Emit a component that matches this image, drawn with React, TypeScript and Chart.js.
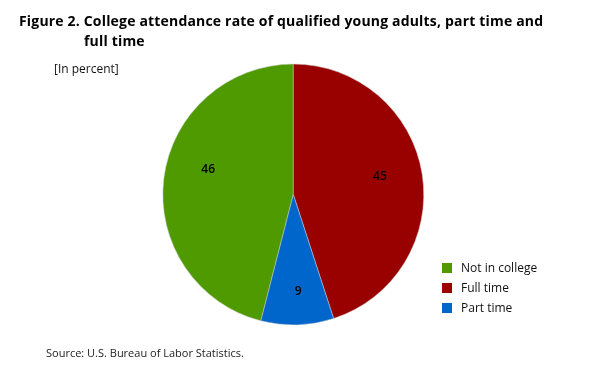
import React, { useEffect, useRef } from "react";
import { Chart, registerables } from "chart.js";

Chart.register(...registerables);

const categories = ["Not in college", "Full time", "Part time"];
const values = [46, 45, 9];
const colors = ["#4E9A00", "#990000", "#0066CC"];
// label placement style: fraction of radius and angular nudge (degrees)
const labelRadiusFactors = [0.681, 0.679, 0.747];
const labelAngleOffsets = [9.4, -3.0, -1.0];

const titleLine1 = "Figure 2. College attendance rate of qualified young adults, part time and";
const titleLine2 = "full time";
const subtitle = "[In percent]";
const source = "Source: U.S. Bureau of Labor Statistics.";

const FONT = "'Open Sans', 'Noto Sans', sans-serif";

const valueLabels = {
  id: "valueLabels",
  afterDatasetsDraw(chart: any) {
    const ctx = chart.ctx;
    const meta = chart.getDatasetMeta(0);
    ctx.save();
    ctx.font = `600 12px ${FONT}`;
    ctx.fillStyle = "#000";
    ctx.textAlign = "center";
    ctx.textBaseline = "middle";
    meta.data.forEach((arc: any, i: number) => {
      const p = arc.getProps(["x", "y", "startAngle", "endAngle", "outerRadius"], true);
      const mid = (p.startAngle + p.endAngle) / 2 + (labelAngleOffsets[i] * Math.PI) / 180;
      const r = p.outerRadius * labelRadiusFactors[i];
      ctx.fillText(String(values[i]), p.x + Math.cos(mid) * r, p.y + Math.sin(mid) * r);
    });
    ctx.restore();
  },
};

export default function App() {
  const ref = useRef<HTMLCanvasElement>(null);
  useEffect(() => {
    if (!ref.current) return;
    const total = values.reduce((a, b) => a + b, 0);
    const chart = new Chart(ref.current, {
      type: "pie",
      data: {
        labels: categories,
        datasets: [
          {
            data: values,
            backgroundColor: colors,
            borderWidth: 0.5,
            borderColor: "#cccccc",
          },
        ],
      },
      options: {
        responsive: false,
        animation: false,
        rotation: -(values[0] / total) * 360,
        layout: { padding: { left: 162.6, right: 181, top: 63.8, bottom: 49.8 } },
        plugins: {
          legend: { display: false },
          tooltip: { enabled: false },
          title: { display: false },
        },
      },
      plugins: [valueLabels],
    });
    return () => chart.destroy();
  }, []);

  const abs = (x: number, y: number): React.CSSProperties => ({
    position: "absolute",
    left: x,
    top: y,
    whiteSpace: "nowrap",
    fontFamily: FONT,
    color: "#000",
    margin: 0,
  });

  return (
    <div style={{ position: "absolute", left: 0, top: 0, width: 605, height: 375, background: "#fff", overflow: "hidden" }}>
      <canvas ref={ref} width={605} height={375} style={{ position: "absolute", left: 0, top: 0 }} />
      <div style={{ ...abs(19, 11), fontSize: 14, fontWeight: 700, lineHeight: "20px", letterSpacing: "0.18px" }}>{titleLine1}</div>
      <div style={{ ...abs(84, 31), fontSize: 14, fontWeight: 700, lineHeight: "20px", letterSpacing: "0.18px" }}>{titleLine2}</div>
      <div style={{ ...abs(54, 61), fontSize: 12, lineHeight: "16px", color: "#111" }}>{subtitle}</div>
      {categories.map((c, i) => (
        <div key={c} style={{ ...abs(442, 261 + i * 20), display: "flex", alignItems: "center" }}>
          <span style={{ display: "inline-block", width: 10, height: 10, background: colors[i] }} />
          <span style={{ marginLeft: 9, fontSize: 12, lineHeight: "14px", color: "#111" }}>{c}</span>
        </div>
      ))}
      <div style={{ ...abs(46, 346), fontSize: 11, lineHeight: "14px", color: "#222" }}>{source}</div>
    </div>
  );
}
